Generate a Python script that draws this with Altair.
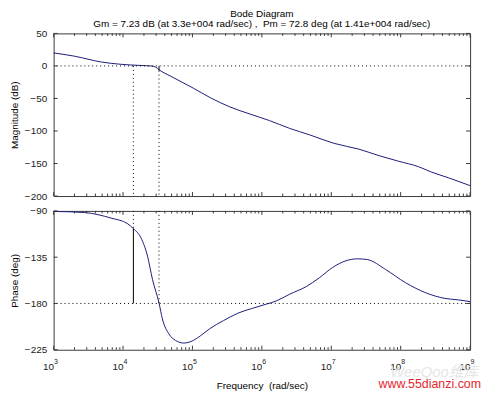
import altair as alt
import pandas as pd

# ---- data ----
mag_logf = [3.0, 3.3, 3.69, 3.97, 4.11, 4.3, 4.4, 4.47, 4.52, 4.69, 5.01, 5.26, 5.54, 5.83,
            6.11, 6.4, 6.69, 7.04, 7.4, 7.69, 7.97, 8.26, 8.44, 8.69, 9.0]
mag_db = [20, 15, 6, 2.5, 1.5, 0.5, 0, -1.8, -6.0, -16, -34, -49, -63, -74,
          -84, -96, -106, -119, -128, -138, -146.5, -155, -163, -172, -184]

phase_logf = [3.0, 3.447, 3.829, 4.067, 4.149, 4.257, 4.353, 4.424, 4.52, 4.567, 4.661, 4.757,
              4.876, 4.996, 5.114, 5.25, 5.447, 5.661, 5.85, 6.067, 6.21, 6.4, 6.639, 6.829,
              7.019, 7.21, 7.376, 7.519, 7.781, 8.067, 8.353, 8.639, 8.829, 9.0]
phase_deg = [-90.5, -91.6, -97, -102.5, -107.2, -116, -134, -156.5, -180, -195, -209.6, -216,
             -218.5, -216.5, -211.5, -204.5, -196.7, -189.3, -185, -180.6, -177.5, -171, -163.6, -155,
             -145, -138.5, -136.6, -137.3, -146.9, -159.7, -169.4, -175.1, -176.5, -178.2]

decades = [3, 4, 5, 6, 7, 8, 9]
minor_mult = [2, 3, 4, 5, 6, 7, 8, 9]
mag_ticks = [50, 0, -50, -100, -150, -200]
phase_ticks = [-90, -135, -180, -225]

gm_db = 7.23
w_cg = 3.3e4
pm_deg = 72.8
w_pm = 1.41e4

title_text = "Bode Diagram"
subtitle_text = "Gm = 7.23 dB (at 3.3e+004 rad/sec) ,\u00a0\u00a0Pm = 72.8 deg (at 1.41e+004 rad/sec)"
xlabel = "Frequency\u00a0\u00a0(rad/sec)"
mag_label = "Magnitude (dB)"
phase_label = "Phase (deg)"
wm_red = "www.55dianzi.com"
wm_gray = "WeeQoo维库"

# ---- tables ----
mag_df = pd.DataFrame({"f": [10 ** v for v in mag_logf], "v": mag_db})
ph_df = pd.DataFrame({"f": [10 ** v for v in phase_logf], "v": phase_deg})
maj_df = pd.DataFrame({"f": [10 ** d for d in decades], "e": [str(d) for d in decades]})
min_df = pd.DataFrame({"f": [m * 10 ** d for d in decades[:-1] for m in minor_mult]})
magt_df = pd.DataFrame({"v": mag_ticks})
pht_df = pd.DataFrame({"v": phase_ticks})

W, H1, H2 = 420, 164, 140
FONT = "Liberation Sans"
LINE = "#1c1c78"
FRAME = "#3a3a3a"

xs = alt.Scale(type="log", domain=[1e3, 1e9], nice=False)
ys1 = alt.Scale(domain=[-200, 50], nice=False, zero=False)
ys2 = alt.Scale(domain=[-225, -90], nice=False, zero=False)

AX_X1 = None
AX_Y1 = alt.Axis(values=mag_ticks, title=mag_label, labelPadding=7, titlePadding=5)
AX_X2 = alt.Axis(values=[10 ** d for d in decades], labelExpr="'10'", labelAlign="right",
                 labelPadding=12, labelFlush=False, labelOverlap=False, title=xlabel, titlePadding=9)
AX_Y2 = alt.Axis(values=phase_ticks, title=phase_label, labelPadding=7, titlePadding=5)


def X(ax, field="f:Q"):
    return alt.X(field, scale=xs, axis=ax)


def xticks(H, ax):
    layers = []
    for df, L in ((maj_df, 4), (min_df, 2.5)):
        base = alt.Chart(df).mark_rule(color=FRAME, strokeWidth=1)
        layers.append(base.encode(x=X(ax), y=alt.value(0), y2=alt.value(L)))
        layers.append(base.encode(x=X(ax), y=alt.value(H - L), y2=alt.value(H)))
    return layers


def yticks(df, ys, ax):
    base = alt.Chart(df).mark_rule(color=FRAME, strokeWidth=1)
    return [
        base.encode(y=alt.Y("v:Q", scale=ys, axis=ax), x=alt.value(0), x2=alt.value(4)),
        base.encode(y=alt.Y("v:Q", scale=ys, axis=ax), x=alt.value(W - 4), x2=alt.value(W)),
    ]


# ---- magnitude panel ----
mag_curve = alt.Chart(mag_df).mark_line(color=LINE, strokeWidth=1, interpolate="monotone").encode(
    x=X(AX_X1), y=alt.Y("v:Q", scale=ys1, axis=AX_Y1))
zero_line = alt.Chart(pd.DataFrame({"v": [0]})).mark_rule(color="black", strokeDash=[1, 3]).encode(
    y=alt.Y("v:Q", scale=ys1, axis=AX_Y1))
mag_vdot = alt.Chart(pd.DataFrame({"f": [w_pm, w_cg], "v": [0, -gm_db], "b": [-200, -200]})).mark_rule(
    color="black", strokeDash=[1, 3]).encode(
    x=X(AX_X1), y=alt.Y("v:Q", scale=ys1, axis=AX_Y1), y2="b:Q")
gm_line = alt.Chart(pd.DataFrame({"f": [w_cg], "v": [0], "b": [-gm_db]})).mark_rule(color="black").encode(
    x=X(AX_X1), y=alt.Y("v:Q", scale=ys1, axis=AX_Y1), y2="b:Q")

top = alt.layer(
    mag_curve, zero_line, mag_vdot, gm_line, *xticks(H1, AX_X1), *yticks(magt_df, ys1, AX_Y1)
).properties(
    width=W, height=H1,
    title=alt.TitleParams(text=title_text, subtitle=subtitle_text, anchor="middle", frame="group",
                          font=FONT, subtitleFont=FONT, fontSize=10, subtitleFontSize=10,
                          fontWeight="normal", color="black", subtitleColor="black",
                          subtitlePadding=1, offset=-1),
)

# ---- phase panel ----
ph_curve = alt.Chart(ph_df).mark_line(color=LINE, strokeWidth=1, interpolate="monotone").encode(
    x=X(AX_X2), y=alt.Y("v:Q", scale=ys2, axis=AX_Y2))
m180_line = alt.Chart(pd.DataFrame({"v": [-180]})).mark_rule(color="black", strokeDash=[1, 3]).encode(
    y=alt.Y("v:Q", scale=ys2, axis=AX_Y2))
ph_vdot = alt.Chart(pd.DataFrame({"f": [w_pm, w_cg], "v": [-90, -90], "b": [-180 + pm_deg, -180]})).mark_rule(
    color="black", strokeDash=[1, 3]).encode(
    x=X(AX_X2), y=alt.Y("v:Q", scale=ys2, axis=AX_Y2), y2="b:Q")
pm_line = alt.Chart(pd.DataFrame({"f": [w_pm], "v": [-180], "b": [-180 + pm_deg]})).mark_rule(color="black").encode(
    x=X(AX_X2), y=alt.Y("v:Q", scale=ys2, axis=AX_Y2), y2="b:Q")
exps = alt.Chart(maj_df).mark_text(align="left", baseline="top", fontSize=7, font=FONT, color="#222", dx=0.5).encode(
    x=X(AX_X2), y=alt.value(H2 + 8), text="e:N")
wm1 = alt.Chart(pd.DataFrame({"t": [wm_gray]})).mark_text(
    align="center", baseline="alphabetic", fontSize=15, fontStyle="italic",
    font="Liberation Sans, Noto Sans CJK SC", color="#e6e6e6").encode(
    x=alt.value(384), y=alt.value(H2 + 27), text="t:N")
wm2 = alt.Chart(pd.DataFrame({"t": [wm_red]})).mark_text(
    align="right", baseline="alphabetic", fontSize=12.5, font=FONT, color="#e3262e").encode(
    x=alt.value(431), y=alt.value(H2 + 39), text="t:N")

bottom = alt.layer(
    wm1, ph_curve, m180_line, ph_vdot, pm_line, *xticks(H2, AX_X2), *yticks(pht_df, ys2, AX_Y2), exps, wm2
).properties(width=W, height=H2)

chart = alt.vconcat(top, bottom, spacing=15, bounds="flush").properties(
    padding={"left": 0, "top": -2, "right": 0, "bottom": 0}, background="white"
).configure_view(stroke=FRAME, strokeWidth=1).configure_axis(
    domain=False, ticks=False, tickSize=0, grid=False, labelFont=FONT, titleFont=FONT,
    labelFontSize=10, titleFontSize=10, titleFontWeight="normal", labelColor="#222", titleColor="black",
)

chart.save("out.html", embed_options={"renderer": "svg", "actions": False})
